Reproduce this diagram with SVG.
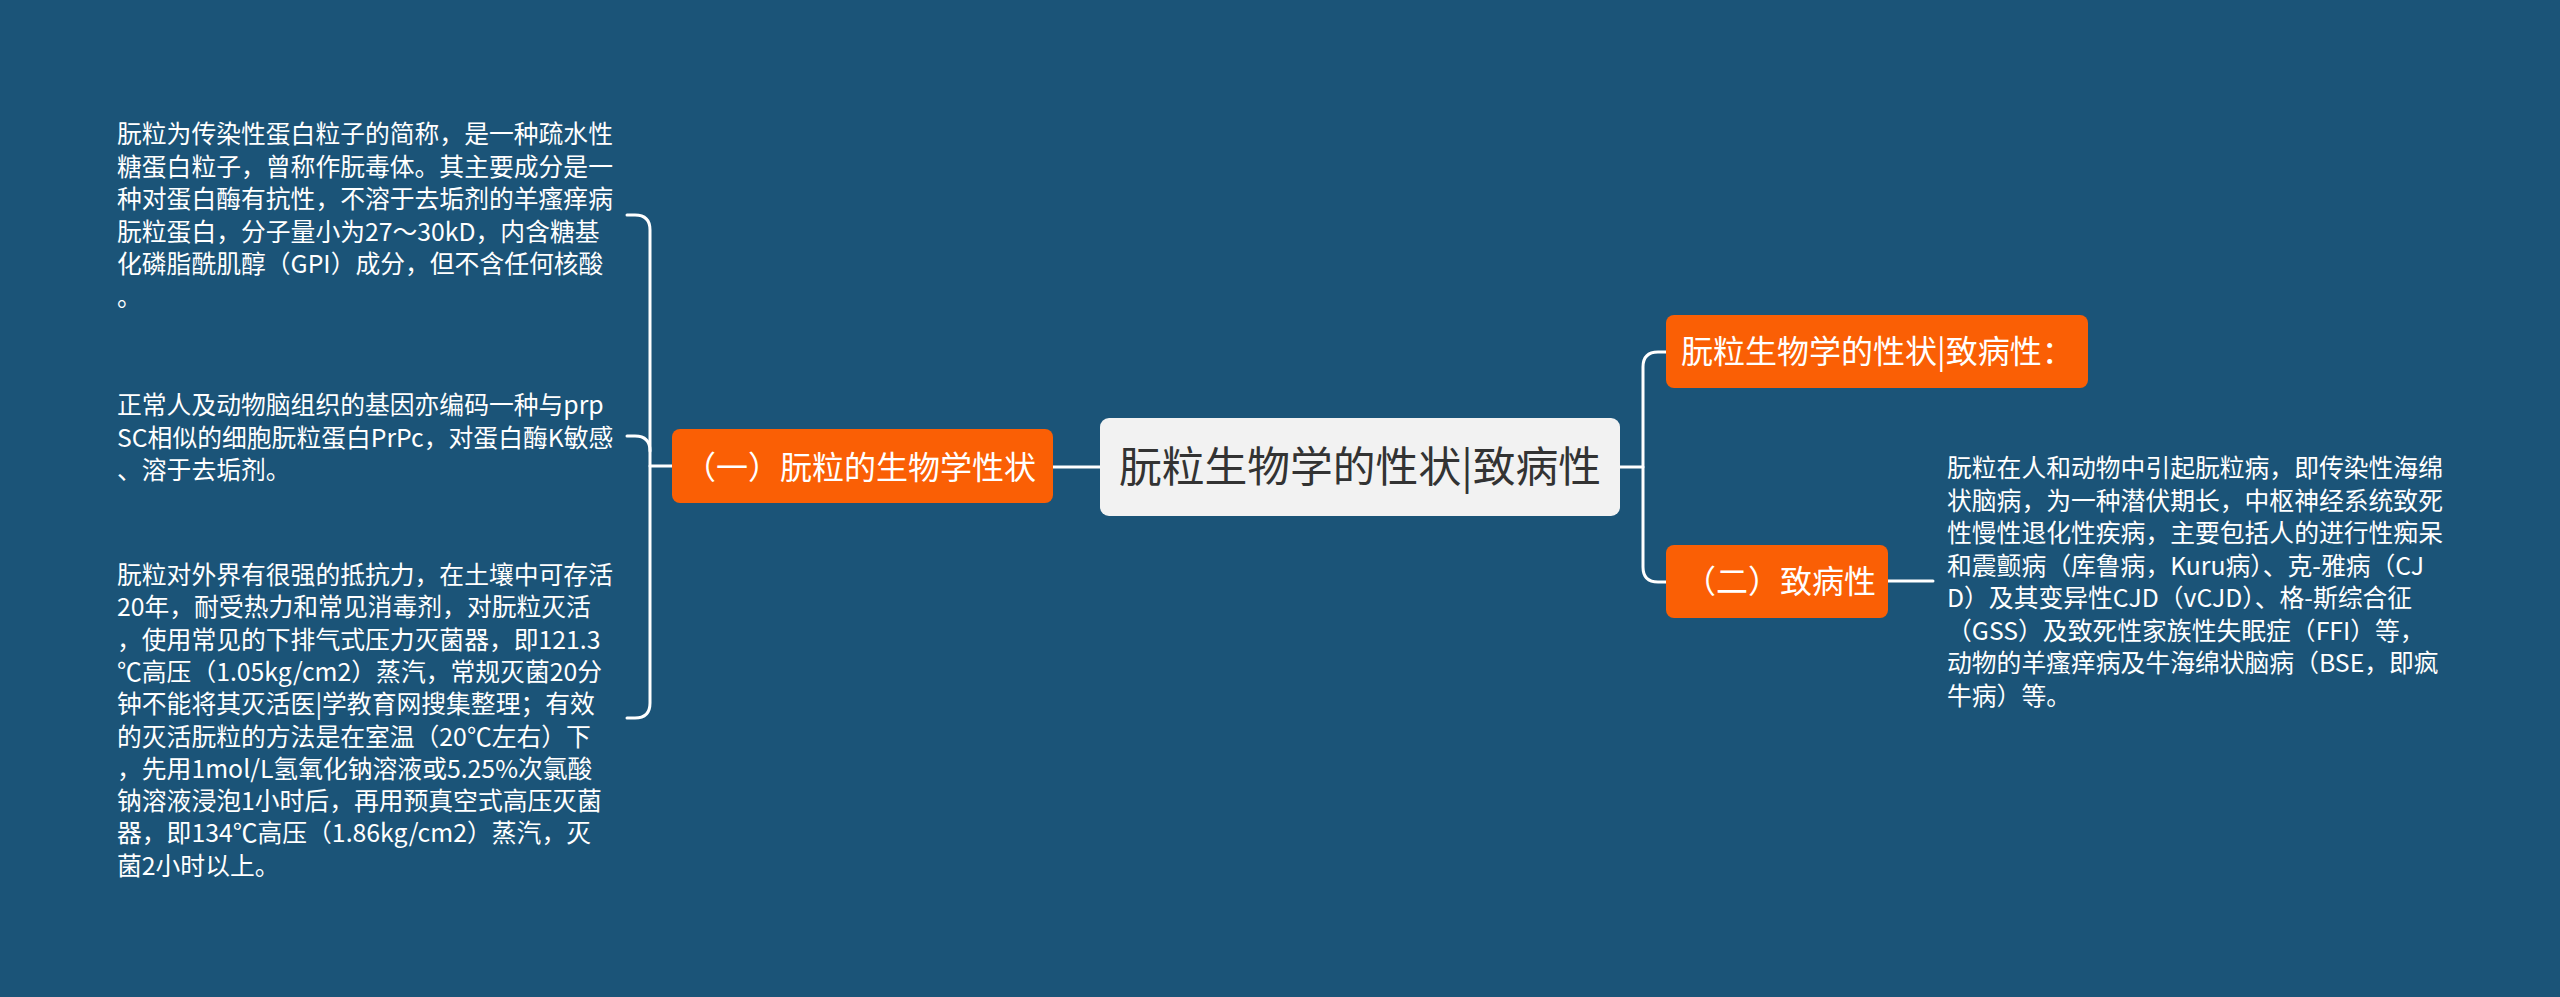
<svg xmlns="http://www.w3.org/2000/svg" width="2560" height="997" viewBox="0 0 2560 997">
<style>
.bg{fill:#1b5478}
.org{fill:#fa5f05}
.ctr{fill:#f2f2f2}
.ln{fill:none;stroke:#ffffff;stroke-width:3;stroke-linecap:round}
text{font-family:"Microsoft YaHei","Noto Sans CJK SC","Noto Sans",sans-serif}
.p{font-size:24.8px;fill:#ffffff}
.ot{font-size:32px;fill:#ffffff}
.ct{font-size:42px;fill:#333333}
</style>
<rect class="bg" x="0" y="0" width="2560" height="997"/>
<g id="connectors">
<path class="ln" d="M1100,467 H1053"/>
<path class="ln" d="M672,466 H650"/>
<path class="ln" d="M627,215 H635 Q650,215 650,230 V703 Q650,718 635,718 H627"/>
<path class="ln" d="M627,436 H635 Q650,436 650,451"/>
<path class="ln" d="M1620,467 H1643"/>
<path class="ln" d="M1666,352 H1658 Q1643,352 1643,367 V567 Q1643,582 1658,582 H1666"/>
<path class="ln" d="M1888,581 H1933"/>
</g>
<g id="root">
<rect class="ctr" x="1100" y="418" width="520" height="98" rx="9"/>
<text class="ct" x="1119" y="482" textLength="482" lengthAdjust="spacingAndGlyphs">朊粒生物学的性状|致病性</text>
</g>
<g id="branch-left">
<rect class="org" x="672" y="429" width="381" height="74" rx="8"/>
<text class="ot" x="684" y="479">（一）朊粒的生物学性状</text>
</g>
<g id="branch-right-top">
<rect class="org" x="1666" y="315" width="422" height="73" rx="8"/>
<text class="ot" x="1681" y="363">朊粒生物学的性状|致病性：</text>
</g>
<g id="branch-right-bottom">
<rect class="org" x="1666" y="545" width="222" height="73" rx="8"/>
<text class="ot" x="1684" y="593">（二）致病性</text>
</g>
<g id="leaf-1">
<text class="p">
<tspan x="117" y="143">朊粒为传染性蛋白粒子的简称，是一种疏水性</tspan>
<tspan x="117" y="175.5">糖蛋白粒子，曾称作朊毒体。其主要成分是一</tspan>
<tspan x="117" y="208">种对蛋白酶有抗性，不溶于去垢剂的羊瘙痒病</tspan>
<tspan x="117" y="240.5">朊粒蛋白，分子量小为27～30kD，内含糖基</tspan>
<tspan x="117" y="273">化磷脂酰肌醇（GPI）成分，但不含任何核酸</tspan>
<tspan x="117" y="305.5">。</tspan>
</text>
</g>
<g id="leaf-2">
<text class="p">
<tspan x="117" y="414">正常人及动物脑组织的基因亦编码一种与prp</tspan>
<tspan x="117" y="446.5">SC相似的细胞朊粒蛋白PrPc，对蛋白酶K敏感</tspan>
<tspan x="117" y="479">、溶于去垢剂。</tspan>
</text>
</g>
<g id="leaf-3">
<text class="p">
<tspan x="117" y="584">朊粒对外界有很强的抵抗力，在土壤中可存活</tspan>
<tspan x="117" y="616.3">20年，耐受热力和常见消毒剂，对朊粒灭活</tspan>
<tspan x="117" y="648.6">，使用常见的下排气式压力灭菌器，即121.3</tspan>
<tspan x="117" y="680.9">℃高压（1.05kg/cm2）蒸汽，常规灭菌20分</tspan>
<tspan x="117" y="713.2">钟不能将其灭活医|学教育网搜集整理；有效</tspan>
<tspan x="117" y="745.5">的灭活朊粒的方法是在室温（20℃左右）下</tspan>
<tspan x="117" y="777.8">，先用1mol/L氢氧化钠溶液或5.25%次氯酸</tspan>
<tspan x="117" y="810.1">钠溶液浸泡1小时后，再用预真空式高压灭菌</tspan>
<tspan x="117" y="842.4">器，即134℃高压（1.86kg/cm2）蒸汽，灭</tspan>
<tspan x="117" y="874.7">菌2小时以上。</tspan>
</text>
</g>
<g id="leaf-4">
<text class="p">
<tspan x="1947" y="477">朊粒在人和动物中引起朊粒病，即传染性海绵</tspan>
<tspan x="1947" y="509.5">状脑病，为一种潜伏期长，中枢神经系统致死</tspan>
<tspan x="1947" y="542">性慢性退化性疾病，主要包括人的进行性痴呆</tspan>
<tspan x="1947" y="574.5">和震颤病（库鲁病，Kuru病）、克-雅病（CJ</tspan>
<tspan x="1947" y="607">D）及其变异性CJD（vCJD）、格-斯综合征</tspan>
<tspan x="1947" y="639.5">（GSS）及致死性家族性失眠症（FFI）等，</tspan>
<tspan x="1947" y="672">动物的羊瘙痒病及牛海绵状脑病（BSE，即疯</tspan>
<tspan x="1947" y="704.5">牛病）等。</tspan>
</text>
</g>
</svg>
